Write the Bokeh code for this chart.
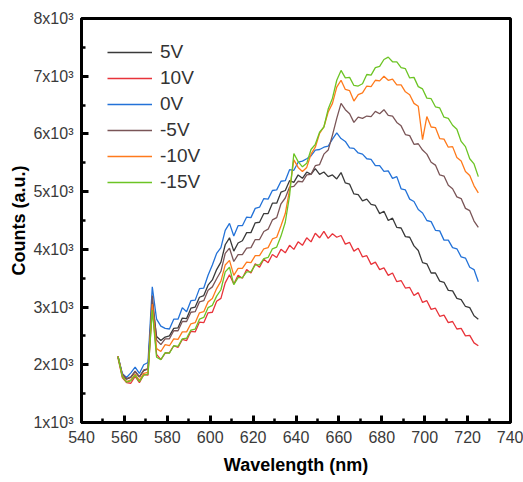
from bokeh.plotting import figure
from bokeh.models import FixedTicker, Range1d
from bokeh.embed import file_html
from bokeh.resources import INLINE

wavelength = list(range(557, 727, 2))

v5 = [2140, 1830, 1750, 1780, 1880, 1790, 1900, 1930, 3100, 2490, 2420, 2480, 2500, 2630, 2640, 2810, 2800, 2980, 3000, 3170,
      3200, 3380, 3470, 3650, 3780, 4080, 4200, 3970, 4110, 4150, 4290, 4290, 4460, 4470, 4620, 4620, 4800, 4800, 4990, 5020,
      5190, 5160, 5290, 5230, 5340, 5300, 5400, 5300, 5340, 5260, 5290, 5220, 5330, 5150, 5130, 4960, 4950, 4840, 4870, 4780,
      4760, 4620, 4660, 4500, 4540, 4380, 4370, 4220, 4210, 4060, 3980, 3770, 3750, 3590, 3590, 3450, 3430, 3290, 3280, 3150,
      3130, 3010, 2990, 2850, 2790]
v10 = [2120, 1780, 1690, 1680, 1800, 1690, 1830, 1820, 3000, 2180, 2090, 2200, 2210, 2330, 2300, 2440, 2420, 2580, 2570, 2740,
       2730, 2900, 2910, 3100, 3150, 3420, 3560, 3400, 3550, 3500, 3650, 3590, 3750, 3690, 3830, 3770, 3910, 3860, 4000, 3940,
       4070, 4000, 4130, 4070, 4200, 4130, 4280, 4200, 4310, 4190, 4270, 4210, 4240, 4090, 4120, 3970, 4020, 3870, 3890, 3740,
       3780, 3650, 3680, 3550, 3590, 3440, 3460, 3330, 3340, 3200, 3250, 3080, 3110, 2960, 2980, 2840, 2860, 2730, 2750, 2620,
       2630, 2500, 2510, 2380, 2330]
v0 = [2150, 1850, 1780, 1860, 1960, 1850, 2000, 2040, 3350, 2790, 2670, 2630, 2620, 2790, 2790, 2990, 2920, 3110, 3120, 3320,
      3330, 3550, 3730, 3930, 4030, 4330, 4450, 4230, 4410, 4410, 4560, 4550, 4710, 4730, 4880, 4870, 5020, 5030, 5180, 5190,
      5380, 5370, 5510, 5530, 5570, 5620, 5720, 5730, 5770, 5790, 5910, 6020, 5920, 5870, 5760, 5750, 5670, 5650, 5570, 5560,
      5450, 5450, 5350, 5360, 5230, 5260, 5050, 5030, 4870, 4830, 4690, 4630, 4500, 4480, 4330, 4320, 4160, 4160, 4030, 4010,
      3870, 3850, 3690, 3650, 3440]
vm5 = [2150, 1840, 1760, 1790, 1890, 1790, 1910, 1930, 3200, 2430, 2350, 2450, 2450, 2590, 2590, 2750, 2750, 2910, 2920, 3090,
       3110, 3290, 3350, 3490, 3620, 3930, 4020, 3790, 3910, 3910, 4020, 4030, 4170, 4170, 4310, 4350, 4510, 4550, 4790, 4890,
       5080, 5090, 5180, 5170, 5290, 5300, 5450, 5470, 5650, 5720, 5980, 6270, 6530, 6420, 6350, 6200, 6290, 6270, 6310, 6300,
       6390, 6350, 6420, 6320, 6310, 6200, 6140, 5990, 5970, 5820, 5830, 5720, 5650, 5510, 5460, 5290, 5270, 5110, 5050, 4910,
       4880, 4710, 4670, 4490, 4380]
vm10 = [2150, 1810, 1710, 1740, 1840, 1730, 1850, 1870, 3050, 2280, 2230, 2350, 2330, 2450, 2440, 2570, 2570, 2710, 2730, 2900,
        2920, 3090, 3150, 3320, 3450, 3730, 3810, 3550, 3670, 3670, 3780, 3770, 3890, 3890, 4010, 4030, 4180, 4210, 4410, 4620,
        5030, 5550, 5420, 5350, 5420, 5650, 5770, 6010, 6120, 6380, 6530, 6810, 6930, 6770, 6750, 6570, 6680, 6710, 6830, 6820,
        6930, 6920, 7000, 6930, 6950, 6850, 6850, 6730, 6680, 6530, 6480, 5900, 6300, 6120, 6110, 5920, 5910, 5770, 5780, 5590,
        5530, 5350, 5280, 5100, 4980]
vm15 = [2140, 1800, 1700, 1720, 1820, 1710, 1820, 1840, 2950, 2130, 2090, 2210, 2200, 2330, 2320, 2450, 2460, 2600, 2620, 2790,
        2820, 2990, 3030, 3190, 3300, 3610, 3690, 3390, 3510, 3510, 3610, 3610, 3730, 3730, 3840, 3860, 4010, 4040, 4230, 4470,
        4930, 5660, 5520, 5430, 5490, 5730, 5820, 6030, 6120, 6430, 6620, 6930, 7100, 6970, 6980, 6840, 6830, 6870, 7030, 7020,
        7150, 7170, 7290, 7330, 7250, 7250, 7150, 7130, 6970, 6980, 6820, 6780, 6620, 6610, 6470, 6450, 6290, 6270, 6150, 6080,
        5870, 5780, 5570, 5480, 5260]

series_labels = ["5V", "10V", "0V", "-5V", "-10V", "-15V"]
series_values = [v5, v10, v0, vm5, vm10, vm15]
series_colors = ["#3a3a3a", "#e8333a", "#2372d8", "#7a5557", "#ff7a1c", "#6cc424"]

x_ticks = [540, 560, 580, 600, 620, 640, 660, 680, 700, 720, 740]
x_minor = [550, 570, 590, 610, 630, 650, 670, 690, 710, 730]
y_ticks = [1000, 2000, 3000, 4000, 5000, 6000, 7000, 8000]
y_minor = [1500, 2500, 3500, 4500, 5500, 6500, 7500]
y_tick_labels = ["1x10³", "2x10³", "3x10³", "4x10³", "5x10³", "6x10³", "7x10³", "8x10³"]

FONT = "Liberation Sans"

p = figure(width=523, height=482, output_backend="svg", toolbar_location=None,
           x_range=Range1d(540, 740), y_range=Range1d(1000, 8000),
           min_border_left=81, min_border_right=13, min_border_top=18, min_border_bottom=60)
p.grid.visible = False
p.outline_line_color = "black"
p.outline_line_width = 3

for lab, vals, col in zip(series_labels, series_values, series_colors):
    p.line(wavelength, vals, line_color=col, line_width=1.3, legend_label=lab)

p.xaxis.ticker = FixedTicker(ticks=x_ticks, minor_ticks=x_minor)
p.yaxis.ticker = FixedTicker(ticks=y_ticks, minor_ticks=y_minor)
p.yaxis.major_label_overrides = {t: s for t, s in zip(y_ticks, y_tick_labels)}

for ax in (p.xaxis[0], p.yaxis[0]):
    ax.axis_line_width = 3
    ax.axis_line_color = "black"
    ax.major_tick_in = 7
    ax.major_tick_out = 0
    ax.minor_tick_in = 4
    ax.minor_tick_out = 0
    ax.major_tick_line_width = 3
    ax.minor_tick_line_width = 2.5
    ax.major_tick_line_color = "black"
    ax.minor_tick_line_color = "black"
    ax.major_label_text_font = FONT
    ax.major_label_text_font_size = "16px"
    ax.major_label_text_color = "#3a3a3a"
    ax.axis_label_text_font = FONT
    ax.axis_label_text_font_style = "bold"
    ax.axis_label_text_font_size = "18px"
    ax.axis_label_text_color = "black"

p.xaxis.axis_label = "Wavelength (nm)"
p.yaxis.axis_label = "Counts (a.u.)"
p.xaxis.major_label_standoff = 8
p.yaxis.major_label_standoff = 8
p.xaxis.axis_label_standoff = 9
p.yaxis.axis_label_standoff = 1

lg = p.legend[0]
lg.location = (26, 229)
lg.background_fill_alpha = 0
lg.border_line_alpha = 0
lg.padding = 0
lg.margin = 0
lg.spacing = 4
lg.glyph_width = 45
lg.glyph_height = 20
lg.label_height = 20
lg.label_standoff = 8
lg.label_text_font = FONT
lg.label_text_font_size = "19px"
lg.label_text_color = "#333333"

open("out.html", "w").write(file_html(p, INLINE))
